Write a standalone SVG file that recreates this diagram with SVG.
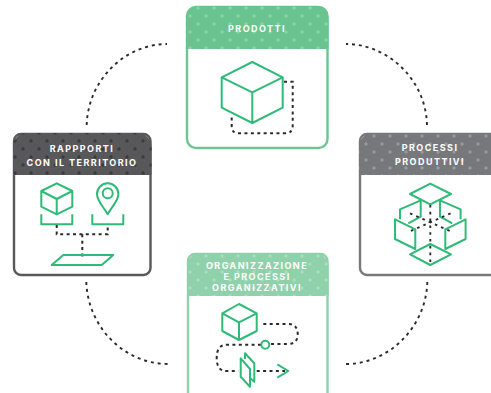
<svg xmlns="http://www.w3.org/2000/svg" width="491" height="393" viewBox="0 0 491 393">
<defs>
<style>
.card{fill:#fff;stroke-width:2.4}
.g{fill:none;stroke:#2fba78;stroke-width:2;stroke-linejoin:round}
.d{fill:none;stroke:#2b2b2d;stroke-width:2;stroke-dasharray:3 3.4}
.e{fill:none;stroke:#2b2b2d;stroke-width:1.9;stroke-dasharray:2.6 4.2}
.c{fill:none;stroke:#2b2b2d;stroke-width:1.9;stroke-dasharray:3 3.9}
.t{font-family:"Inter","Liberation Sans",sans-serif;font-size:9px;font-weight:700;fill:#fff;text-anchor:middle;letter-spacing:1.45px}
</style>
<pattern id="pl" width="16" height="16" patternUnits="userSpaceOnUse" x="2" y="4">
<path d="M4 2v4M2 4h4M12 10v4M10 12h4" stroke="#fff" stroke-opacity=".38" stroke-width=".7" fill="none"/>
</pattern>
<pattern id="pd" width="16" height="16" patternUnits="userSpaceOnUse" x="3" y="1">
<path d="M4 2v4M2 4h4M12 10v4M10 12h4" stroke="#1c1c1e" stroke-opacity=".8" stroke-width=".7" fill="none"/>
</pattern>
</defs>
<g id="connectors">
<path class="c" d="M86.7 125C88 80 125 44 167 44"/>
<path class="c" d="M427 125C426 80 388 44 346 44"/>
<path class="c" d="M427.3 282C426 328 388 364 346 364"/>
<path class="c" d="M86.3 282C88 328 125 364 168 364"/>
</g>
<g id="prodotti">
<rect class="card" x="187" y="7" width="140.500" height="141" rx="9" stroke="#6cc592"/>
<path d="M186 49V20a14 14 0 0 1 14-14h114.500a14 14 0 0 1 14 14v29z" fill="#68c38f"/>
<path d="M186 49V20a14 14 0 0 1 14-14h114.500a14 14 0 0 1 14 14v29z" fill="url(#pl)"/>
<text class="t" x="257" y="32">PRODOTTI</text>
<path class="g" d="M252.300 62L282.700 77.300V107.700L252.300 123L221.700 107.700V77.300ZM221.700 77.300L252.300 92.300L282.700 77.300M252.300 92.300V123"/>
<path class="d" d="M284 81.700H292.700V126Q292.700 133.300 285 133.300H238.300Q231.700 133.300 231.700 126V116"/>
</g>
<g id="rapporti">
<rect class="card" x="14" y="134" width="136.500" height="141" rx="7" stroke="#58585a"/>
<path d="M13 175V147a14 14 0 0 1 14-14h110.500a14 14 0 0 1 14 14v28z" fill="#58585a"/>
<path d="M13 175V147a14 14 0 0 1 14-14h110.500a14 14 0 0 1 14 14v28z" fill="url(#pd)"/>
<text class="t" x="82" y="152">RAPPPORTI</text>
<text class="t" x="82" y="166">CON IL TERRITORIO</text>
<path class="g" d="M56.700 183.300L72.300 191V206.700L56.700 214.300L41.300 206.700V191ZM41.300 191L56.700 199L72.300 191M56.700 199V214.300"/>
<path class="g" d="M41.300 214.300V224.300H72.300V214.300M92.300 214.300V224.300H123.300V214.300"/>
<path class="g" d="M107.700 214.300C103 206 97 201 97 194a10.700 10.700 0 0 1 21.400 0C118.400 201 112 206 107.700 214.300Z"/>
<circle class="g" cx="107.700" cy="193.300" r="5"/>
<path class="d" d="M56.700 225V234.300H107.700V225M82.300 234.300V257"/>
<path class="g" d="M51.700 265L63.300 255H113.300L101.700 265Z"/>
</g>
<g id="processi">
<rect class="card" x="360" y="134" width="150" height="141" rx="7" stroke="#77787b"/>
<path d="M359 175V147a14 14 0 0 1 14-14h130v42z" fill="#77787b"/>
<path d="M359 175V147a14 14 0 0 1 14-14h130v42z" fill="url(#pl)"/>
<text class="t" x="430" y="151">PROCESSI</text>
<text class="t" x="430" y="165">PRODUTTIVI</text>
<path class="g" d="M430.300 183.700L451 194L430.300 204.300L410 194ZM430.300 244L451 254.300L430.300 265L410 254.300Z"/>
<path class="g" d="M420.700 200.300L400 209.300V219.300M420.700 200.300V216.700L408.300 223.300M440 200.300L460.600 209.300V219.300M440 200.300V216.700L452.300 223.300"/>
<path class="g" d="M395 219.300L415.300 229.300V249L395 239ZM465.600 219.300L445.300 229.300V249L465.600 239Z"/>
<path class="e" d="M430.300 205V262M410 213.300L450.600 231.300M450.600 213.300L410 231.300"/>
</g>
<g id="organizzazione">
<rect class="card" x="188" y="254" width="139.500" height="150" rx="7" stroke="#8fd1aa"/>
<path d="M187 296V267a14 14 0 0 1 14-14h113.500a14 14 0 0 1 14 14v29z" fill="#8fd1aa"/>
<path d="M187 296V267a14 14 0 0 1 14-14h113.500a14 14 0 0 1 14 14v29z" fill="url(#pl)"/>
<text class="t" x="257" y="269">ORGANIZZAZIONE</text>
<text class="t" x="257" y="280">E PROCESSI</text>
<text class="t" x="257" y="291">ORGANIZZATIVI</text>
<path class="g" d="M239 304L256.700 313.300V331L239 340L222.300 331V313.300ZM222.300 313.300L239 322.300L256.700 313.300M239 322.300V340"/>
<path class="d" d="M263.300 324H288Q297.700 324 297.700 334T288 344H270M261 344.700H227Q216.700 344.700 216.700 358T227 371H238.300M256.700 371H285"/>
<circle class="g" cx="265.300" cy="344.700" r="4"/>
<path class="g" d="M277.300 364.300L288.300 371L277.300 377.700"/>
<path class="g" d="M240.700 358.300L250 369V386.700L240.700 376.700ZM245 359V353.300L254.300 363.300V381.700L250 378"/>
</g>
</svg>
